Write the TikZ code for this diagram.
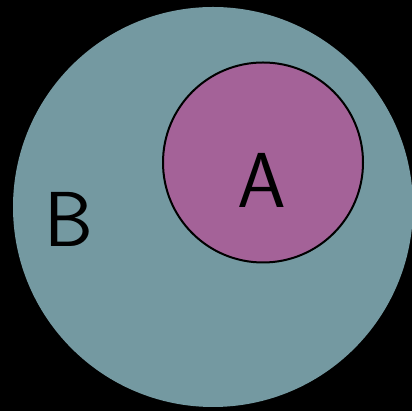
\documentclass[tikz,border=0pt]{standalone}
\definecolor{tealB}{RGB}{116,153,161}
\definecolor{purpA}{RGB}{164,98,152}
\tikzset{
  setlabel/.style={font=\fontsize{78}{78}\selectfont\sffamily, text=black, inner sep=0pt, anchor=base},
}
\begin{document}
\begin{tikzpicture}[x=1pt,y=1pt]
\useasboundingbox (0,0) rectangle (412,411);
\clip (0,0) rectangle (412,411);
\fill[black] (0,0) rectangle (412,411);
\node[circle, fill=tealB, minimum size=400pt, inner sep=0pt] (B) at (213,204) {};
\node[circle, fill=purpA, draw=black, line width=2pt, minimum size=200pt, inner sep=0pt] (A) at (263,248.5) {};
\node[setlabel] (labA) at (262,203) {A};
\node[setlabel] (labB) at (68.5,164) {B};
\end{tikzpicture}
\end{document}
